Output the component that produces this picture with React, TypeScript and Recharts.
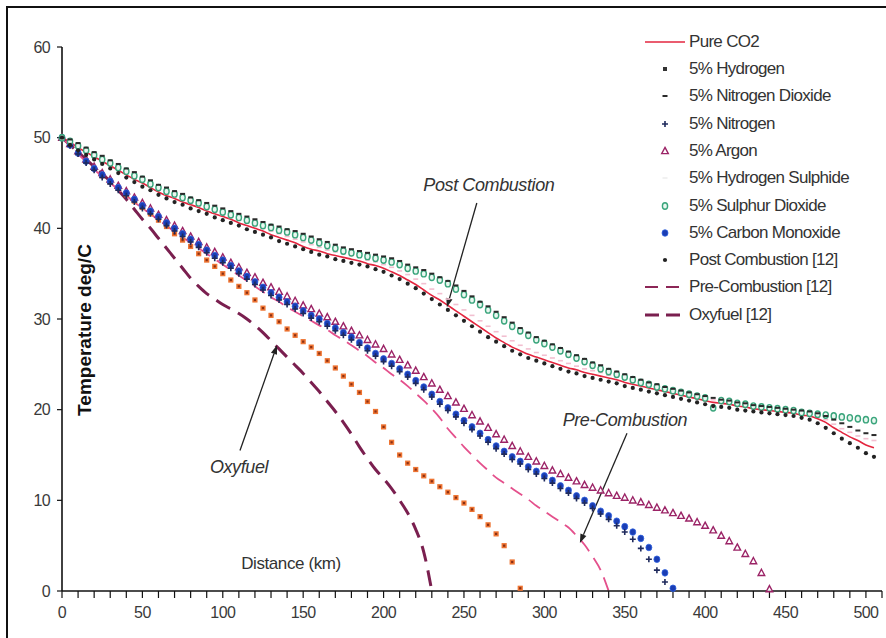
import React from 'react';
import { LineChart, Line, XAxis, YAxis, ReferenceLine, ReferenceDot } from 'recharts';

// distance along the pipeline (km), one sample every 5 km
const distanceKm = [
  0, 5, 10, 15, 20, 25, 30, 35, 40, 45, 50, 55, 60, 65, 70, 75, 80, 85, 90, 95,
  100, 105, 110, 115, 120, 125, 130, 135, 140, 145, 150, 155, 160, 165, 170, 175, 180, 185, 190, 195,
  200, 205, 210, 215, 220, 225, 230, 235, 240, 245, 250, 255, 260, 265, 270, 275, 280, 285, 290, 295,
  300, 305, 310, 315, 320, 325, 330, 335, 340, 345, 350, 355, 360, 365, 370, 375, 380, 385, 390, 395,
  400, 405, 410, 415, 420, 425, 430, 435, 440, 445, 450, 455, 460, 465, 470, 475, 480, 485, 490, 495,
  500, 505,
];

const xTicks = [
  0, 10, 20, 30, 40, 50, 60, 70, 80, 90, 100, 110, 120, 130, 140, 150, 160, 170, 180, 190,
  200, 210, 220, 230, 240, 250, 260, 270, 280, 290, 300, 310, 320, 330, 340, 350, 360, 370, 380, 390,
  400, 410, 420, 430, 440, 450, 460, 470, 480, 490, 500, 510,
];
const yTicks = [0, 10, 20, 30, 40, 50, 60];

// temperature, deg C
const pureCO2 = [
  50.0, 49.5, 48.9, 48.4, 47.9, 47.4, 46.9, 46.4, 45.9, 45.4,
  45.0, 44.5, 44.0, 43.6, 43.3, 42.9, 42.6, 42.3, 41.9, 41.6,
  41.3, 41.0, 40.6, 40.3, 40.0, 39.7, 39.3, 39.0, 38.7, 38.4,
  38.0, 37.7, 37.5, 37.2, 37.0, 36.8, 36.6, 36.4, 36.1, 35.9,
  35.6, 35.2, 34.8, 34.3, 33.8, 33.2, 32.6, 32.1, 31.5, 30.9,
  30.3, 29.7, 29.1, 28.5, 27.9, 27.4, 26.9, 26.5, 26.1, 25.8,
  25.5, 25.2, 24.9, 24.6, 24.4, 24.1, 23.9, 23.7, 23.5, 23.3,
  23.0, 22.8, 22.6, 22.4, 22.2, 22.0, 21.8, 21.6, 21.4, 21.2,
  21.0, 20.8, 20.7, 20.6, 20.4, 20.3, 20.1, 20.0, 19.9, 19.8,
  19.7, 19.6, 19.4, 19.3, 19.0, 18.6, 18.0, 17.5, 17.0, 16.6,
  16.1, 15.8,
];

const hydrogen = [
  50.0, 49.2, 48.3, 47.4, 46.6, 45.8, 45.1, 44.4, 43.7, 43.0,
  42.3, 41.6, 40.9, 40.2, 39.4, 38.7, 38.0, 37.2, 36.5, 35.8,
  35.0, 34.3, 33.6, 32.9, 32.1, 31.2, 30.4, 29.7, 28.9, 28.2,
  27.5, 26.9, 26.2, 25.4, 24.6, 23.7, 22.8, 21.9, 20.9, 19.8,
  18.1, 16.4, 15.0, 14.1, 13.4, 12.7, 12.1, 11.5, 10.9, 10.3,
  9.7, 9.0, 8.2, 7.3, 6.3, 5.0, 3.2, 0.3,
];

const nitrogenDioxide = [
  50.0, 49.8, 49.4, 48.9, 48.4, 48.0, 47.5, 47.1, 46.6, 46.2,
  45.7, 45.3, 44.8, 44.5, 44.1, 43.8, 43.4, 43.1, 42.8, 42.5,
  42.2, 41.9, 41.6, 41.3, 41.0, 40.7, 40.4, 40.2, 39.9, 39.7,
  39.4, 39.1, 38.8, 38.5, 38.2, 37.9, 37.7, 37.5, 37.3, 37.1,
  36.9, 36.7, 36.4, 36.0, 35.7, 35.4, 35.0, 34.6, 34.2, 33.7,
  33.1, 32.5, 31.9, 31.4, 30.8, 30.2, 29.6, 29.0, 28.5, 28.0,
  27.6, 27.2, 26.8, 26.4, 26.0, 25.6, 25.2, 24.9, 24.5, 24.2,
  23.9, 23.6, 23.3, 23.0, 22.8, 22.5, 22.3, 22.1, 21.9, 21.7,
  21.5, 21.3, 21.1, 21.0, 20.8, 20.7, 20.5, 20.4, 20.3, 20.2,
  20.1, 20.0, 19.9, 19.8, 19.6, 19.3, 18.9, 18.5, 18.1, 17.7,
  17.4, 17.2,
];

const nitrogen = [
  50.0, 49.1, 48.2, 47.2, 46.4, 45.6, 44.9, 44.2, 43.6, 42.9,
  42.2, 41.6, 41.0, 40.3, 39.7, 39.1, 38.5, 37.9, 37.3, 36.7,
  36.2, 35.6, 35.0, 34.4, 33.8, 33.2, 32.6, 32.1, 31.6, 31.1,
  30.6, 30.1, 29.7, 29.2, 28.7, 28.2, 27.7, 27.1, 26.5, 25.9,
  25.3, 24.8, 24.2, 23.6, 22.9, 22.2, 21.4, 20.6, 19.9, 19.2,
  18.5, 17.8, 17.1, 16.4, 15.7, 15.1, 14.5, 14.0, 13.4, 12.9,
  12.4, 11.9, 11.3, 10.8, 10.2, 9.7, 9.1, 8.5, 7.9, 7.2,
  6.5, 5.7, 4.7, 3.5, 2.3, 1.0,
];

const argon = [
  50.0, 49.3, 48.5, 47.6, 46.8, 46.1, 45.4, 44.7, 44.1, 43.4,
  42.8, 42.2, 41.5, 40.9, 40.3, 39.7, 39.1, 38.5, 37.9, 37.4,
  36.8, 36.2, 35.7, 35.1, 34.6, 34.0, 33.5, 33.0, 32.5, 32.0,
  31.5, 31.1, 30.6, 30.2, 29.7, 29.2, 28.7, 28.2, 27.7, 27.2,
  26.7, 26.1, 25.5, 24.9, 24.3, 23.6, 22.9, 22.2, 21.5, 20.8,
  20.1, 19.4, 18.7, 18.0, 17.3, 16.7, 16.0, 15.4, 14.8, 14.3,
  13.8, 13.3, 12.9, 12.5, 12.1, 11.7, 11.4, 11.1, 10.8, 10.5,
  10.3, 10.0, 9.8, 9.5, 9.2, 8.9, 8.6, 8.3, 8.0, 7.6,
  7.2, 6.7, 6.1, 5.5, 4.8, 4.1, 3.3, 2.0, 0.2,
];

const hydrogenSulphide = [
  50.0, 49.6, 49.0, 48.5, 48.0, 47.5, 47.0, 46.5, 46.1, 45.6,
  45.2, 44.7, 44.2, 43.8, 43.5, 43.1, 42.8, 42.5, 42.1, 41.8,
  41.5, 41.2, 40.9, 40.6, 40.3, 40.0, 39.7, 39.4, 39.1, 38.8,
  38.5, 38.2, 37.9, 37.6, 37.4, 37.2, 37.0, 36.8, 36.5, 36.3,
  36.0, 35.7, 35.3, 34.9, 34.4, 33.9, 33.3, 32.8, 32.2, 31.6,
  31.0, 30.4, 29.8, 29.2, 28.6, 28.1, 27.6, 27.1, 26.7, 26.3,
  26.0, 25.7, 25.4, 25.1, 24.8, 24.5, 24.3, 24.1, 23.8, 23.6,
  23.4, 23.1, 22.9, 22.7, 22.5, 22.3, 22.1, 21.9, 21.7, 21.5,
  21.3, 21.1, 21.0, 20.8, 20.7, 20.5, 20.4, 20.3, 20.2, 20.1,
  20.0, 19.9, 19.8, 19.6, 19.3, 18.9, 18.4, 17.9, 17.5, 17.1,
  16.8, 16.6,
];

const sulphurDioxide = [
  50.0, 49.6, 49.1, 48.6, 48.1, 47.6, 47.2, 46.7, 46.3, 45.8,
  45.4, 44.9, 44.5, 44.1, 43.8, 43.4, 43.1, 42.8, 42.4, 42.1,
  41.8, 41.5, 41.2, 40.9, 40.6, 40.3, 40.1, 39.8, 39.6, 39.3,
  39.0, 38.7, 38.4, 38.1, 37.8, 37.5, 37.3, 37.1, 36.9, 36.7,
  36.5, 36.3, 36.0, 35.6, 35.3, 35.0, 34.6, 34.3, 33.9, 33.3,
  32.7, 32.1, 31.6, 31.0, 30.4, 29.8, 29.2, 28.7, 28.2, 27.7,
  27.3, 26.9, 26.5, 26.1, 25.7, 25.3, 24.9, 24.5, 24.2, 23.9,
  23.6, 23.3, 23.0, 22.8, 22.5, 22.3, 22.1, 21.9, 21.7, 21.5,
  21.3, 20.2, 21.0, 20.9, 20.7, 20.6, 20.4, 20.3, 20.2, 20.1,
  20.0, 19.9, 19.7, 19.6, 19.5, 19.4, 19.3, 19.2, 19.1, 19.0,
  18.9, 18.8,
];

const carbonMonoxide = [
  50.0, 49.2, 48.3, 47.4, 46.6, 45.9, 45.2, 44.5, 43.9, 43.2,
  42.5, 41.9, 41.3, 40.6, 40.0, 39.4, 38.8, 38.2, 37.6, 37.0,
  36.5, 35.9, 35.3, 34.7, 34.1, 33.5, 32.9, 32.4, 31.9, 31.4,
  30.9, 30.4, 30.0, 29.5, 29.0, 28.5, 28.0, 27.4, 26.8, 26.2,
  25.6, 25.1, 24.5, 23.9, 23.2, 22.5, 21.7, 20.9, 20.2, 19.5,
  18.8, 18.1, 17.4, 16.7, 16.0, 15.4, 14.8, 14.3, 13.7, 13.2,
  12.7, 12.2, 11.6, 11.1, 10.5, 10.0, 9.4, 8.8, 8.3, 7.7,
  7.1, 6.5, 5.8, 4.8, 3.5, 2.0, 0.3,
];

const postCombustion = [
  50.0, 49.2, 48.6, 48.1, 47.6, 47.1, 46.6, 46.1, 45.6, 45.1,
  44.6, 44.2, 43.7, 43.3, 42.9, 42.6, 42.2, 41.9, 41.6, 41.2,
  40.9, 40.6, 40.3, 39.9, 39.6, 39.3, 39.0, 38.6, 38.3, 38.0,
  37.7, 37.4, 37.1, 36.9, 36.6, 36.4, 36.2, 36.0, 35.8, 35.5,
  35.2, 34.8, 34.4, 33.9, 33.4, 32.8, 32.2, 31.6, 31.0, 30.4,
  29.8, 29.2, 28.6, 28.0, 27.5, 27.0, 26.5, 26.1, 25.7, 25.4,
  25.1, 24.8, 24.5, 24.2, 24.0, 23.7, 23.5, 23.3, 23.1, 22.9,
  22.6, 22.4, 22.2, 22.0, 21.8, 21.6, 21.4, 21.2, 21.0, 20.8,
  20.6, 20.4, 20.3, 20.2, 20.0, 19.9, 19.8, 19.7, 19.6, 19.5,
  19.4, 19.3, 19.1, 18.9, 18.5, 18.0, 17.4, 16.8, 16.3, 15.8,
  15.2, 14.8,
];

const preCombustion = [
  50.0, 49.1, 48.2, 47.3, 46.5, 45.7, 45.0, 44.3, 43.6, 42.9,
  42.2, 41.6, 40.9, 40.3, 39.6, 39.0, 38.4, 37.8, 37.2, 36.6,
  36.0, 35.4, 34.8, 34.2, 33.6, 33.0, 32.4, 31.9, 31.3, 30.8,
  30.3, 29.8, 29.3, 28.8, 28.2, 27.7, 27.1, 26.5, 25.9, 25.2,
  24.6, 23.9, 23.3, 22.6, 21.8, 21.0, 20.1, 19.1, 17.9, 16.9,
  15.9, 15.0, 14.1, 13.3, 12.5, 11.9, 11.3, 10.7, 10.1, 9.4,
  8.8, 8.2, 7.6, 7.0, 6.1, 5.1, 3.8, 2.3, 0.0,
];

const oxyfuel = [
  50.0, 49.2, 48.4, 47.6, 46.8, 46.0, 45.2, 44.2, 43.2, 42.1,
  41.0, 40.0, 38.9, 37.8, 36.7, 35.6, 34.5, 33.6, 32.8, 32.2,
  31.6, 31.1, 30.6, 30.0, 29.3, 28.5, 27.6, 26.7, 25.8, 24.9,
  24.0, 23.0, 22.0, 20.9, 19.8, 18.6, 17.3, 15.9, 14.6, 13.4,
  12.4, 11.3, 10.0, 8.6, 6.8, 4.3, 0.0,
];

const FONT = "'Liberation Sans Narrow', 'Liberation Sans', Arial, sans-serif";

type MarkerKind = 'none' | 'square' | 'dash' | 'plus' | 'triangle' | 'faint' | 'diamond' | 'disc' | 'dot';

interface SeriesDef {
  key: string;
  name: string;
  values: number[];
  color: string;
  marker: MarkerKind;
  legendColor?: string;
  dash?: string;
  width?: number;
}

// legend order
const series: SeriesDef[] = [
  { key: 'co2', name: 'Pure CO2', values: pureCO2, color: '#e3263f', marker: 'none', width: 1.6 },
  { key: 'h2', name: '5% Hydrogen', values: hydrogen, color: '#ee7432', marker: 'square', legendColor: '#333' },
  { key: 'no2', name: '5% Nitrogen Dioxide', values: nitrogenDioxide, color: '#2a2a2a', marker: 'dash' },
  { key: 'n2', name: '5% Nitrogen', values: nitrogen, color: '#1f2a5c', marker: 'plus' },
  { key: 'ar', name: '5% Argon', values: argon, color: '#9b2366', marker: 'triangle' },
  { key: 'h2s', name: '5% Hydrogen Sulphide', values: hydrogenSulphide, color: '#f2bfd0', marker: 'faint', legendColor: '#eeeeee' },
  { key: 'so2', name: '5% Sulphur Dioxide', values: sulphurDioxide, color: '#3aa57c', marker: 'diamond' },
  { key: 'co', name: '5% Carbon Monoxide', values: carbonMonoxide, color: '#1a3db4', marker: 'disc' },
  { key: 'post', name: 'Post Combustion [12]', values: postCombustion, color: '#222', marker: 'dot' },
  { key: 'pre', name: 'Pre-Combustion [12]', values: preCombustion, color: '#e4508c', marker: 'none', dash: '14 8', width: 1.8, legendColor: '#8c2656' },
  { key: 'oxy', name: 'Oxyfuel [12]', values: oxyfuel, color: '#7a1f4f', marker: 'none', dash: '16 9', width: 3 },
];

// back to front
const drawOrder = ['oxy', 'pre', 'h2', 'h2s', 'ar', 'co', 'n2', 'so2', 'no2', 'co2', 'post'];

const rows = distanceKm.map((d, i) => {
  const row: Record<string, number | null> = { d };
  series.forEach((s) => {
    row[s.key] = i < s.values.length ? s.values[i] : null;
  });
  return row;
});

function Marker({ kind, color, cx, cy }: { kind: MarkerKind; color: string; cx: number; cy: number }) {
  switch (kind) {
    case 'dot':
      return <circle cx={cx} cy={cy} r={2.1} fill={color} />;
    case 'dash':
      return <rect x={cx - 2.5} y={cy - 1} width={5} height={2} fill={color} />;
    case 'plus':
      return <path d={`M${cx - 3},${cy}H${cx + 3}M${cx},${cy - 3}V${cy + 3}`} stroke={color} strokeWidth={1.6} />;
    case 'triangle':
      return (
        <path
          d={`M${cx},${cy - 3.6}L${cx + 3.3},${cy + 2.6}L${cx - 3.3},${cy + 2.6}Z`}
          fill="#fff"
          fillOpacity={0.7}
          stroke={color}
          strokeWidth={1.4}
        />
      );
    case 'diamond':
      return <ellipse cx={cx} cy={cy} rx={2.6} ry={3.2} fill="#eaf7f0" stroke={color} strokeWidth={1.4} />;
    case 'disc':
      return <ellipse cx={cx} cy={cy} rx={3} ry={3.3} fill={color} stroke="#2f62e0" strokeWidth={0.8} />;
    case 'square':
      return (
        <g>
          <rect x={cx - 2.6} y={cy - 2.6} width={5.2} height={5.2} fill={color} />
          <rect x={cx - 1.1} y={cy - 1.1} width={2.2} height={2.2} fill="#8a2f14" />
        </g>
      );
    case 'faint':
      return <rect x={cx - 2.5} y={cy - 0.8} width={5} height={1.6} fill={color} />;
    default:
      return null;
  }
}

function Arrow(props: any) {
  const { x1, y1, x2, y2 } = props;
  const a = Math.atan2(y2 - y1, x2 - x1);
  const len = 9;
  const half = 3.2;
  const bx = x2 - len * Math.cos(a);
  const by = y2 - len * Math.sin(a);
  const px = -Math.sin(a) * half;
  const py = Math.cos(a) * half;
  return (
    <g>
      <line x1={x1} y1={y1} x2={bx} y2={by} stroke="#222" strokeWidth={1.3} />
      <polygon points={`${x2},${y2} ${bx + px},${by + py} ${bx - px},${by - py}`} fill="#222" />
    </g>
  );
}

const noteText = (label: string, italic = true, size = 18) => (p: any) => (
  <text
    x={p.cx}
    y={p.cy}
    dy="0.35em"
    textAnchor="middle"
    fill="#333"
    fontFamily={FONT}
    fontSize={size}
    fontStyle={italic ? 'italic' : 'normal'}
    letterSpacing={-0.4}
  >
    {label}
  </text>
);

function LegendIcon({ s }: { s: SeriesDef }) {
  const c = s.legendColor ?? s.color;
  if (s.marker === 'none') {
    return (
      <svg width={46} height={14}>
        <line x1={3} y1={7} x2={43} y2={7} stroke={c} strokeWidth={s.width ?? 1.5} strokeDasharray={s.dash ? (s.width && s.width > 2 ? '14 7' : '13 8') : undefined} />
      </svg>
    );
  }
  return (
    <svg width={46} height={14}>
      {s.marker === 'square' ? (
        <rect x={21} y={5} width={4} height={4} fill={c} />
      ) : (
        <Marker kind={s.marker} color={c} cx={23} cy={7} />
      )}
    </svg>
  );
}

function ChartLegend() {
  return (
    <div style={{ position: 'absolute', left: 642, top: 0 }}>
      {series.map((s, i) => (
        <div
          key={s.key}
          style={{
            position: 'absolute',
            top: 41.7 + i * 27.3 - 11,
            left: 0,
            height: 22,
            display: 'flex',
            alignItems: 'center',
            whiteSpace: 'nowrap',
          }}
        >
          <LegendIcon s={s} />
          <span style={{ marginLeft: 1, fontFamily: FONT, fontSize: 17, color: '#333', letterSpacing: -0.7 }}>{s.name}</span>
        </div>
      ))}
    </div>
  );
}

export default function App() {
  const tickStyle = { fill: '#3a3a3a', fontSize: 16, fontFamily: FONT, letterSpacing: -0.6 };
  return (
    <div style={{ position: 'absolute', left: 0, top: 0, width: 886, height: 638, background: '#fff', overflow: 'hidden' }}>
      <div style={{ position: 'absolute', left: 6, top: 6, right: -4, bottom: -4, borderTop: '2px solid #111', borderLeft: '2px solid #111' }} />
      <LineChart width={886} height={638} data={rows} margin={{ top: 47, right: 4, bottom: 7, left: 2 }}>
        <XAxis
          type="number"
          dataKey="d"
          domain={[0, 510]}
          ticks={xTicks}
          interval={0}
          tickFormatter={(v: number) => (v % 50 === 0 ? String(v) : '')}
          axisLine={{ stroke: '#111', strokeWidth: 1.6 }}
          tickLine={{ stroke: '#111', strokeWidth: 1.2 }}
          tickSize={7}
          tickMargin={9}
          tick={tickStyle}
          height={40}
        />
        <YAxis
          type="number"
          domain={[0, 60]}
          ticks={yTicks}
          interval={0}
          axisLine={{ stroke: '#111', strokeWidth: 1.6 }}
          tickLine={{ stroke: '#111', strokeWidth: 1.2 }}
          tickSize={5}
          tickMargin={7}
          tick={tickStyle}
          width={60}
        />
        {drawOrder.map((k) => {
          const s = series.find((x) => x.key === k)!;
          const isLine = s.marker === 'none';
          return (
            <Line
              key={s.key}
              dataKey={s.key}
              name={s.name}
              type={isLine ? 'monotone' : 'linear'}
              stroke={isLine ? s.color : 'none'}
              strokeWidth={s.width ?? 1.5}
              strokeDasharray={s.dash}
              dot={
                isLine
                  ? false
                  : (p: any) =>
                      p.cx == null || p.cy == null || p.value == null ? (
                        <g key={`${s.key}-${p.index}`} />
                      ) : (
                        <g key={`${s.key}-${p.index}`}>
                          <Marker kind={s.marker} color={s.color} cx={p.cx} cy={p.cy} />
                        </g>
                      )
              }
              activeDot={false}
              isAnimationActive={false}
            />
          );
        })}
        <ReferenceLine segment={[{ x: 258, y: 42.8 }, { x: 239.4, y: 31.3 }]} shape={Arrow} />
        <ReferenceLine segment={[{ x: 351.4, y: 17.4 }, { x: 322.1, y: 5.3 }]} shape={Arrow} />
        <ReferenceLine segment={[{ x: 110.7, y: 15.5 }, { x: 133.7, y: 27.1 }]} shape={Arrow} />
        <ReferenceDot x={265.5} y={44.8} r={0} shape={noteText('Post Combustion')} />
        <ReferenceDot x={350.1} y={18.9} r={0} shape={noteText('Pre-Combustion')} />
        <ReferenceDot x={110.1} y={13.7} r={0} shape={noteText('Oxyfuel')} />
        <ReferenceDot x={142.4} y={3.1} r={0} shape={noteText('Distance (km)', false, 17)} />
      </LineChart>
      <div
        style={{
          position: 'absolute',
          left: 85,
          top: 330,
          transform: 'translate(-50%, -50%) rotate(-90deg)',
          whiteSpace: 'nowrap',
          fontFamily: "'Liberation Sans', Arial, sans-serif",
          fontWeight: 'bold',
          fontSize: 19,
          color: '#111',
        }}
      >
        Temperature deg/C
      </div>
      <ChartLegend />
    </div>
  );
}
